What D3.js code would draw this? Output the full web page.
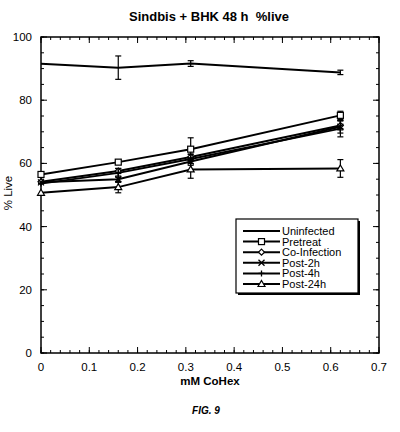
<!DOCTYPE html>
<html>
<head>
<meta charset="utf-8">
<script src="https://cdn.jsdelivr.net/npm/d3@7"></script>
<style>
  body { margin: 0; background: #fff; }
  svg { font-family: "Liberation Sans", Arial, sans-serif; }
  .line { fill: none; stroke: #000; stroke-width: 2; }
  .err { stroke: #000; stroke-width: 1.2; }
  .mark { fill: #fff; stroke: #000; stroke-width: 1.2; }
</style>
</head>
<body>
<div id="graphs"></div>
<script>
// dose points, mM CoHex
var doses = [0, 0.16, 0.31, 0.62];
var seriesNames = ["Uninfected", "Pretreat", "Co-Infection", "Post-2h", "Post-4h", "Post-24h"];
var uninfected  = [91.5, 90.3, 91.6, 88.8];
var pretreat    = [56.5, 60.4, 64.5, 75.2];
var coInfection = [54.2, 57.6, 62.0, 72.0];
var post2h      = [54.0, 55.0, 60.6, 71.6];
var post4h      = [53.6, 57.0, 61.4, 71.0];
var post24h     = [50.7, 52.5, 58.1, 58.4];
// error bar half-widths
var errUninf  = [0, 3.7, 0.9, 0.7];
var errPre    = [0, 0.6, 3.6, 1.3];
var errCo     = [0, 0.8, 1.0, 1.4];
var err2h     = [0, 1.0, 1.2, 2.0];
var err4h     = [0, 1.4, 1.4, 2.6];
var err24h    = [0, 1.8, 2.8, 2.8];
var markers   = ["none", "square", "diamond", "cross", "plus", "triangle"];
var xTicks = [0, 0.1, 0.2, 0.3, 0.4, 0.5, 0.6, 0.7];
var yTicks = [0, 20, 40, 60, 80, 100];

var allVals = [uninfected, pretreat, coInfection, post2h, post4h, post24h];
var allErr  = [errUninf, errPre, errCo, err2h, err4h, err24h];

var margin = {top: 37, right: 21, bottom: 79, left: 41};
var width  = 400 - margin.left - margin.right;
var height = 432 - margin.top - margin.bottom;

var root = d3.select('#graphs').append('svg')
  .attr('width', 400).attr('height', 432);
var svg = root.append('g')
  .attr('transform', 'translate(' + margin.left + ',' + margin.top + ')');

var xScale = d3.scaleLinear().domain([0, 0.7]).range([0, width]);
var yScale = d3.scaleLinear().domain([0, 100]).range([height, 0]);

// frame
svg.append('rect').attr('width', width).attr('height', height)
  .attr('fill', 'none').attr('stroke', '#000').attr('stroke-width', 1.5);

// inward ticks on all sides
function tickSet(vals, len, side) {
  vals.forEach(function(v) {
    if (side === 'x') {
      var px = xScale(v);
      svg.append('line').attr('x1', px).attr('x2', px).attr('y1', height).attr('y2', height - len).attr('stroke', '#000');
      svg.append('line').attr('x1', px).attr('x2', px).attr('y1', 0).attr('y2', len).attr('stroke', '#000');
    } else {
      var py = yScale(v);
      svg.append('line').attr('x1', 0).attr('x2', len).attr('y1', py).attr('y2', py).attr('stroke', '#000');
      svg.append('line').attr('x1', width).attr('x2', width - len).attr('y1', py).attr('y2', py).attr('stroke', '#000');
    }
  });
}
tickSet(d3.range(0, 0.7001, 0.02), 3, 'x');
tickSet(xTicks, 6, 'x');
tickSet(d3.range(0, 100.1, 5), 3, 'y');
tickSet(yTicks, 6, 'y');

svg.selectAll('.xl').data(xTicks).enter().append('text')
  .attr('x', function(d) { return xScale(d); })
  .attr('y', height + 18)
  .attr('text-anchor', 'middle').attr('font-size', 11.5)
  .text(function(d) { return d === 0 ? '0' : d3.format('.1f')(d); });

svg.selectAll('.yl').data(yTicks).enter().append('text')
  .attr('x', -9).attr('y', function(d) { return yScale(d) + 4; })
  .attr('text-anchor', 'end').attr('font-size', 11.5)
  .text(function(d) { return d; });

// titles
root.append('text').attr('x', 209).attr('y', 21).attr('text-anchor', 'middle')
  .attr('font-size', 13).attr('font-weight', 'bold').attr('xml:space', 'preserve')
  .text('Sindbis + BHK 48 h  %live');
root.append('text').attr('x', margin.left + width / 2).attr('y', 385).attr('text-anchor', 'middle')
  .attr('font-size', 11.5).attr('font-weight', 'bold').text('mM CoHex');
root.append('text').attr('transform', 'translate(12,' + (margin.top + height / 2 - 2) + ') rotate(-90)')
  .attr('text-anchor', 'middle').attr('font-size', 11.5).text('% Live');
root.append('text').attr('x', 206).attr('y', 414).attr('text-anchor', 'middle')
  .attr('font-size', 10).attr('font-weight', 'bold').attr('font-style', 'italic').text('FIG. 9');

function drawMarker(g, type, cx, cy) {
  if (type === 'square') {
    g.append('rect').attr('class', 'mark').attr('x', cx - 3).attr('y', cy - 3).attr('width', 6).attr('height', 6);
  } else if (type === 'diamond') {
    g.append('path').attr('class', 'mark').attr('d', 'M' + cx + ',' + (cy - 3) + 'L' + (cx + 3) + ',' + cy + 'L' + cx + ',' + (cy + 3) + 'L' + (cx - 3) + ',' + cy + 'Z');
  } else if (type === 'cross') {
    g.append('path').attr('stroke', '#000').attr('stroke-width', 1.3)
      .attr('d', 'M' + (cx - 3) + ',' + (cy - 3) + 'L' + (cx + 3) + ',' + (cy + 3) + 'M' + (cx - 3) + ',' + (cy + 3) + 'L' + (cx + 3) + ',' + (cy - 3));
  } else if (type === 'plus') {
    g.append('path').attr('stroke', '#000').attr('stroke-width', 1.3)
      .attr('d', 'M' + cx + ',' + (cy - 3) + 'L' + cx + ',' + (cy + 3) + 'M' + (cx - 3) + ',' + cy + 'L' + (cx + 3) + ',' + cy);
  } else if (type === 'triangle') {
    g.append('path').attr('class', 'mark').attr('d', 'M' + cx + ',' + (cy - 3.5) + 'L' + (cx + 3.5) + ',' + (cy + 2.5) + 'L' + (cx - 3.5) + ',' + (cy + 2.5) + 'Z');
  }
}

var valueline = d3.line()
  .x(function(d, i) { return xScale(doses[i]); })
  .y(function(d) { return yScale(d); });

allVals.forEach(function(vals, s) {
  var g = svg.append('g');
  g.append('path').datum(vals).attr('class', 'line').attr('d', valueline);
  vals.forEach(function(v, i) {
    var e = allErr[s][i];
    var px = xScale(doses[i]);
    if (e > 0) {
      g.append('line').attr('class', 'err').attr('x1', px).attr('x2', px)
        .attr('y1', yScale(v + e)).attr('y2', yScale(v - e));
      [v + e, v - e].forEach(function(c) {
        g.append('line').attr('class', 'err').attr('x1', px - 3).attr('x2', px + 3)
          .attr('y1', yScale(c)).attr('y2', yScale(c));
      });
    }
    drawMarker(g, markers[s], px, yScale(v));
  });
});

// legend
var lg = root.append('g').attr('transform', 'translate(236,219)');
lg.append('rect').attr('x', 2).attr('y', 2).attr('width', 122).attr('height', 74).attr('fill', '#000');
lg.append('rect').attr('width', 122).attr('height', 74).attr('fill', '#fff').attr('stroke', '#000').attr('stroke-width', 1.2);
seriesNames.forEach(function(name, i) {
  var ry = 12 + i * 10.6;
  lg.append('line').attr('x1', 7).attr('x2', 44).attr('y1', ry).attr('y2', ry)
    .attr('stroke', '#000').attr('stroke-width', 2);
  drawMarker(lg, markers[i], 25.5, ry);
  lg.append('text').attr('x', 46).attr('y', ry + 4).attr('font-size', 11).text(name);
});
</script>
</body>
</html>
